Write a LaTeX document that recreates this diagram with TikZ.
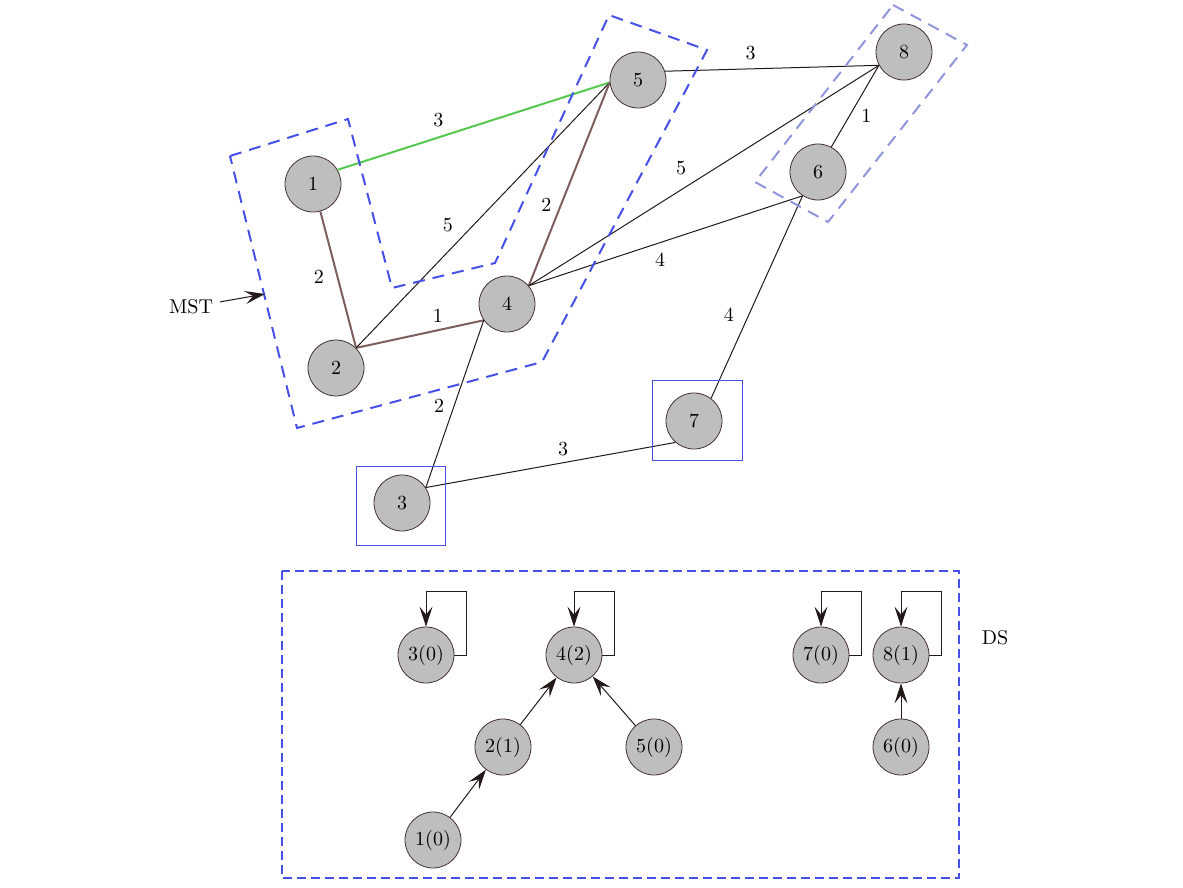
\documentclass[tikz,border=0pt]{standalone}
\usetikzlibrary{arrows.meta}
\definecolor{nodefill}{RGB}{190,190,190}
\definecolor{nodeedge}{RGB}{70,50,50}
\definecolor{edgedark}{RGB}{35,25,25}
\definecolor{edgebrown}{RGB}{125,95,95}
\definecolor{edgegreen}{RGB}{85,200,80}
\definecolor{setblue}{RGB}{70,80,230}
\definecolor{paleblue}{RGB}{145,150,220}

\begin{document}
\begin{tikzpicture}[x=0.5pt, y=-0.5pt,
  >={Stealth[length=10pt, width=6.5pt, inset=4pt]},
  vertex/.style={circle, draw=nodeedge, fill=nodefill, minimum size=28pt, inner sep=0pt},
  plain/.style={draw=edgedark, line width=0.5pt},
  tree/.style={draw=edgebrown, line width=1pt},
  chosen/.style={draw=edgegreen, line width=1pt},
  mstset/.style={draw=setblue, line width=1pt, dash pattern=on 6pt off 4pt},
  pairset/.style={draw=paleblue, line width=1pt, dash pattern=on 6pt off 4pt},
  oneset/.style={draw=setblue, line width=0.5pt},
  dsbox/.style={draw=setblue, line width=1pt, dash pattern=on 4.5pt off 2.5pt},
  ptr/.style={->, draw=edgedark, line width=0.5pt}]
  \useasboundingbox (0,0) rectangle (1183,888);

  % graph
  \node[vertex] (1) at (313,184) {1};
  \node[vertex] (2) at (336,368) {2};
  \node[vertex] (3) at (402,503) {3};
  \node[vertex] (4) at (507,304) {4};
  \node[vertex] (5) at (638,80) {5};
  \node[vertex] (6) at (818,172) {6};
  \node[vertex] (7) at (694,421) {7};
  \node[vertex] (8) at (904,52) {8};

  \path
  (1.30) edge [chosen] node [above=1.5pt, pos=.37] {3} (5.185)
  (1.285) edge [tree] node [left=3pt, pos=.48] {2} (2.45)
  (2.45) edge [tree] node [above, pos=.64] {1} (4.215)
  (2.45) edge [plain] node [above left, pos=.41] {5} (5.185)
  (5.185) edge [tree] node [left=1pt, pos=.6] {2} (4.40)
  (5.18) edge [plain] node [above=1pt, pos=.4] {3} (8.208)
  (4.40) edge [plain] node [above left, pos=.47] {5} (8.208)
  (6.62) edge [plain] node [right=2.5pt, pos=.375] {1} (8.208)
  (4.40) edge [plain] node [below=1.5pt, pos=.48] {4} (6.237)
  (6.237) edge [plain] node [left=4pt, pos=.585] {4} (7.53)
  (4.215) edge [plain] node [left=1.5pt, pos=.51] {2} (3.33)
  (3.33) edge [plain] node [above, pos=.55] {3} (7.229)
  ;

  % sets
  \draw[mstset] (230,156) -- (348,119) -- (392,288) -- (495,263) -- (609,15)
    -- (707,50) -- (542,362) -- (297,428) -- cycle;
  \draw[pairset] (893,5) -- (967,45) -- (828,222) -- (755,182) -- cycle;
  \draw[oneset] (356,466) rectangle (445,545);
  \draw[oneset] (652,380) rectangle (742,460);

  \node (mst) at (191,307) {MST};
  \coordinate (mstend) at (265,294);
  \draw[ptr] (mst) -- (mstend);

  % disjoint sets
  \draw[dsbox] (282,571) rectangle (959,878);
  \node (ds) at (995,638) {DS};

  \node[vertex] (d3) at (426,655) {3(0)};
  \node[vertex] (d4) at (574,655) {4(2)};
  \node[vertex] (d2) at (503,747) {2(1)};
  \node[vertex] (d5) at (654,747) {5(0)};
  \node[vertex] (d1) at (433,840) {1(0)};
  \node[vertex] (d7) at (821,655) {7(0)};
  \node[vertex] (d8) at (901,655) {8(1)};
  \node[vertex] (d6) at (901,747) {6(0)};

  \foreach \s in {d3, d4, d7, d8}
    \draw[ptr] (\s.east) -- ++(12,0) -- ++(0,-64) -| (\s.north);
  \draw[ptr] (d1) -- (d2);
  \draw[ptr] (d2) -- (d4);
  \draw[ptr] (d5) -- (d4);
  \draw[ptr] (d6) -- (d8);
\end{tikzpicture}
\end{document}
